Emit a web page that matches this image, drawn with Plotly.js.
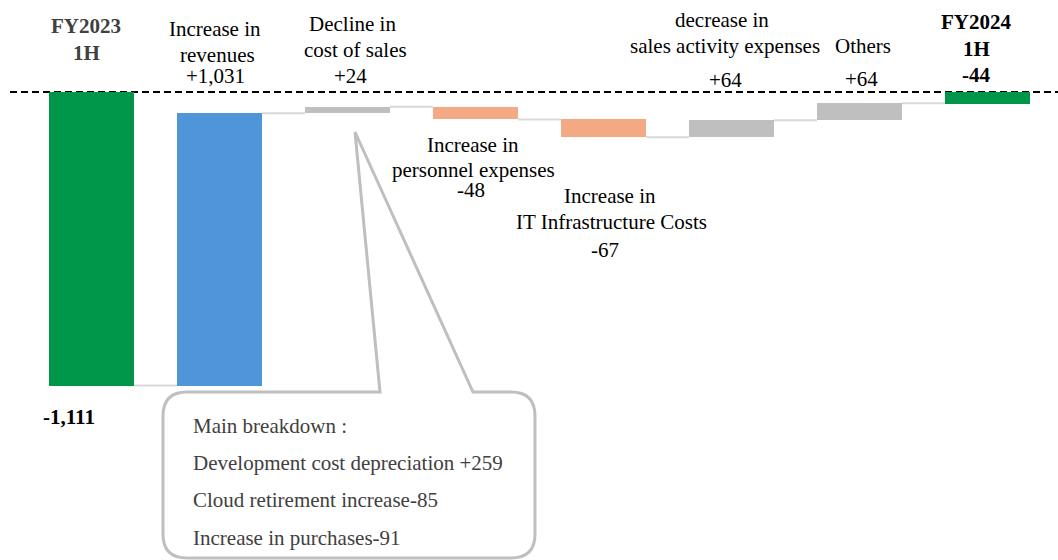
<!DOCTYPE html>
<html>
<head>
<meta charset="utf-8">
<script src="https://cdn.plot.ly/plotly-3.0.1.min.js"></script>
<style>html,body{margin:0;padding:0;background:#fff;}#chart{width:1058px;height:560px;}</style>
</head>
<body>
<div id="chart"></div>
<script>
// ---------------- DATA ----------------
const categories = ['FY2023 1H', 'Increase in revenues', 'Decline in cost of sales', 'Increase in personnel expenses',
  'Increase in IT Infrastructure Costs', 'decrease in sales activity expenses', 'Others', 'FY2024 1H'];
const categoryLines = [['FY2023', '1H'], ['Increase in', 'revenues'], ['Decline in', 'cost of sales'],
  ['Increase in', 'personnel expenses'], ['Increase in', 'IT Infrastructure Costs'],
  ['decrease in', 'sales activity expenses'], ['Others'], ['FY2024', '1H']];
const values = [-1111, 1031, 24, -48, -67, 64, 64, -44];
const measures = ['total', 'relative', 'relative', 'relative', 'relative', 'relative', 'relative', 'total'];
const valueLabels = ['-1,111', '+1,031', '+24', '-48', '-67', '+64', '+64', '-44'];
const breakdownTitle = 'Main breakdown :';
const breakdownItems = ['Development cost depreciation +259', 'Cloud retirement increase-85', 'Increase in purchases-91'];

// ---------------- STYLE / LAYOUT ----------------
const W = 1058, H = 560;
const FONT = 'Liberation Serif, Times New Roman, serif';
const barColors = ['#009649', '#4f95d9', '#bfbfbf', '#f3aa84', '#f3aa84', '#bfbfbf', '#bfbfbf', '#009649'];
const barWidth = 0.664;
const px = x => x / W;
const py = y => 1 - y / H;

// label positions in pixels: [centerX, baseline]
const labelPos = [
  {lines: [[86, 33], [86, 60]], value: [69, 424], bold: true, color: '#404040', valueBold: true, valueColor: '#000'},
  {lines: [[215, 36], [217, 62]], value: [215, 83]},
  {lines: [[352, 31], [355, 57]], value: [350, 83]},
  {lines: [[473, 152], [473, 177]], value: [471, 197]},
  {lines: [[610, 203], [611, 229]], value: [605, 257]},
  {lines: [[722, 27], [725, 53]], value: [725, 87]},
  {lines: [[863, 53]], value: [861, 86]},
  {lines: [[976, 29], [976, 56]], value: [976, 82], bold: true, color: '#000', valueBold: true, valueColor: '#000'}
];

// ---------------- BUILD ----------------
const xs = categories.map((c, i) => i);
const bases = [], heights = [], ends = [];
let cum = 0;
values.forEach((v, i) => {
  if (measures[i] === 'total') { bases.push(0); heights.push(v); cum = v; }
  else { bases.push(cum); heights.push(v); cum += v; }
  ends.push(cum);
});

const bars = {
  type: 'bar', x: xs, y: heights, base: bases, width: barWidth,
  marker: {color: barColors, line: {width: 0}}, hoverinfo: 'skip', text: categories, textposition: 'none'
};

const cx = [], cy = [];
for (let i = 0; i < values.length - 1; i++) {
  cx.push(i + barWidth / 2, i + 1 - barWidth / 2, null);
  cy.push(ends[i], ends[i], null);
}
const connectors = {
  type: 'scatter', mode: 'lines', x: cx, y: cy, line: {color: '#d9d9d9', width: 2},
  hoverinfo: 'skip', connectgaps: false
};

const annotations = [];
const bl = 7; // baseline-to-middle offset
labelPos.forEach((p, i) => {
  categoryLines[i].forEach((t, j) => {
    const pos = p.lines[j];
    annotations.push({
      xref: 'paper', yref: 'paper', x: px(pos[0]), y: py(pos[1] - bl), xanchor: 'center', yanchor: 'middle',
      showarrow: false, text: p.bold ? '<b>' + t + '</b>' : t,
      font: {family: FONT, size: 21, color: p.color || '#000'}
    });
  });
  annotations.push({
    xref: 'paper', yref: 'paper', x: px(p.value[0]), y: py(p.value[1] - bl), xanchor: 'center', yanchor: 'middle',
    showarrow: false, text: p.valueBold ? '<b>' + valueLabels[i] + '</b>' : valueLabels[i],
    font: {family: FONT, size: 21, color: p.valueColor || p.color || '#000'}
  });
});
const boxLines = [breakdownTitle].concat(breakdownItems);
const boxBaselines = [433, 470, 507, 545];
boxLines.forEach((t, j) => {
  annotations.push({
    xref: 'paper', yref: 'paper', x: px(191), y: py(boxBaselines[j] - bl), xanchor: 'left', yanchor: 'middle',
    showarrow: false, text: t, font: {family: FONT, size: 21, color: '#404040'}
  });
});

function P(x, y) { return px(x).toFixed(5) + ',' + py(y).toFixed(5); }
const r = 24, L = 163, R = 535, T = 392, B = 558;
const calloutPath = 'M' + P(380, T) + ' L' + P(355, 132) + ' L' + P(473, T) + ' L' + P(R - r, T) +
  ' Q' + P(R, T) + ' ' + P(R, T + r) + ' L' + P(R, B - r) + ' Q' + P(R, B) + ' ' + P(R - r, B) +
  ' L' + P(L + r, B) + ' Q' + P(L, B) + ' ' + P(L, B - r) + ' L' + P(L, T + r) +
  ' Q' + P(L, T) + ' ' + P(L + r, T) + ' Z';

const shapes = [
  {type: 'line', xref: 'paper', yref: 'y', x0: px(10), x1: 1, y0: 0, y1: 0, layer: 'below',
    line: {color: '#000', width: 2, dash: '7px,4px'}},
  {type: 'path', xref: 'paper', yref: 'paper', path: calloutPath, fillcolor: '#fff',
    line: {color: '#bfbfbf', width: 3}, layer: 'above'}
];

const k = 293.5 / 1111; // px per unit
const zeroPx = 92;
const layout = {
  width: W, height: H, margin: {l: 0, r: 0, t: 0, b: 0, pad: 0},
  paper_bgcolor: '#fff', plot_bgcolor: '#fff', showlegend: false,
  xaxis: {visible: false, range: [-91.5 / 128, (W - 91.5) / 128], fixedrange: true},
  yaxis: {visible: false, range: [-(H - zeroPx) / k, zeroPx / k], fixedrange: true},
  bargap: 0, annotations: annotations, shapes: shapes
};

Plotly.newPlot('chart', [connectors, bars], layout, {displayModeBar: false, staticPlot: true});
</script>
</body>
</html>
